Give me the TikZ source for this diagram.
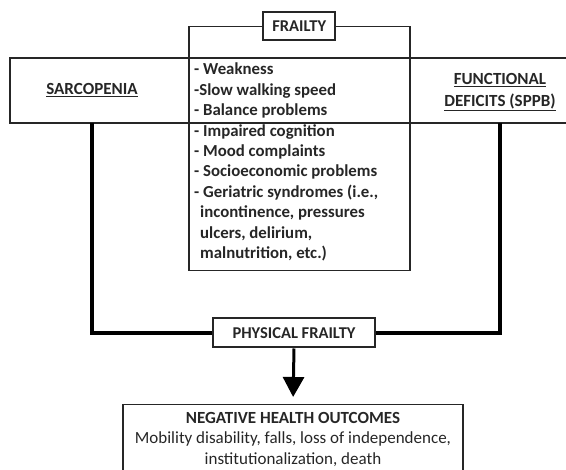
\documentclass[tikz,border=0pt]{standalone}
\usepackage{fontspec}
\setmainfont{Carlito}
\usetikzlibrary{arrows.meta}
\tikzset{
  ink/.style={text=black!85},
  thinbox/.style={draw=black!85, line width=1.5pt},
  tagbox/.style={draw=black!85, line width=2pt, fill=white, inner sep=0pt, ink, font=\bfseries\fontsize{16.5}{18}\selectfont},
  bandline/.style={draw=black!85, line width=2pt},
  trunk/.style={draw=black, line width=4pt, line join=miter},
  headtext/.style={ink, align=center, inner sep=0pt, font=\bfseries\fontsize{17}{22}\selectfont},
  listtext/.style={ink, align=left, inner sep=0pt, anchor=north west, font=\bfseries\fontsize{16.8}{20.4}\selectfont},
}
\begin{document}
\begin{tikzpicture}[x=1pt,y=-1pt]
\useasboundingbox (0,0) rectangle (566,470);

% horizontal band across the page
\coordinate (bandNW) at (10,58);
\coordinate (bandSE) at (600,123);
\draw[bandline] (bandNW) rectangle (bandSE);

% frailty container with its label on the top edge
\node[thinbox, anchor=north west, minimum width=221pt, minimum height=244pt, inner sep=0pt] (frail) at (188,26) {};
\node[tagbox, minimum width=72pt, minimum height=28pt] (flabel) at (frail.north) {FRAILTY};

% frailty criteria
\node[listtext] (crit) at (194,63) {%
- Weakness\\
-Slow walking speed\\
- Balance problems\\
- Impaired cognition\\
- Mood complaints\\
- Socioeconomic problems\\
- Geriatric syndromes (i.e.,\\
\hspace*{6pt}incontinence, pressures\\
\hspace*{6pt}ulcers, delirium,\\
\hspace*{6pt}malnutrition, etc.)};

% side headings
\node[headtext] (sarc) at (92,90) {\underline{SARCOPENIA}};
\node[headtext] (func) at (500,92) {\underline{FUNCTIONAL}\\\underline{DEFICITS (SPPB)}};

% physical frailty and outcomes
\node[tagbox, minimum width=162pt, minimum height=29pt] (phys) at (294,333) {PHYSICAL FRAILTY};
\node[thinbox, anchor=north, minimum width=340pt, minimum height=90pt, inner sep=0pt] (out) at (293,404) {};
\node[ink, align=center, anchor=north, inner sep=0pt, font=\fontsize{17}{20.4}\selectfont] (outtext) at (293,412)
  {\textbf{NEGATIVE HEALTH OUTCOMES}\\Mobility disability, falls, loss of independence,\\institutionalization, death};

% connectors
\draw[trunk] (sarc |- bandSE) |- (phys.west);
\draw[trunk] (func |- bandSE) |- (phys.east);
\draw[draw=black, line width=3pt, -{Triangle[width=21pt,length=20pt]}, shorten >=7pt] (phys.south) -- (out.north);
\end{tikzpicture}
\end{document}
